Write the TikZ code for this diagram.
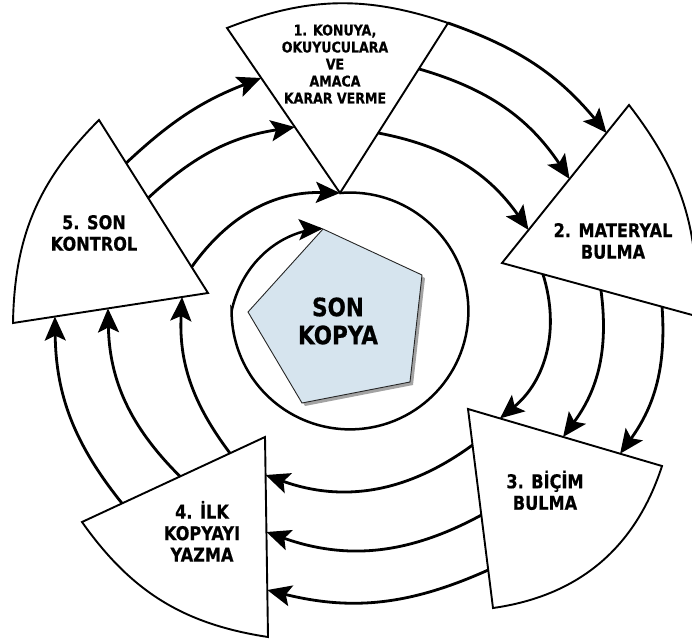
\documentclass[tikz,border=0pt]{standalone}
\usepackage{fontspec}
\setmainfont{DejaVu Sans}[FakeStretch=0.85, BoldFeatures={FakeBold=0.6}]
\usetikzlibrary{arrows.meta,calc,shadows}
\definecolor{pentfill}{RGB}{214,228,238}
\begin{document}
\begin{tikzpicture}[x=1pt,y=1pt,
  wedgebox/.style={draw=black, line width=1.9pt, fill=white, line join=miter},
  headtip/.style={-{Stealth[length=24pt,width=21pt,inset=5pt]}},
  conn/.style={line width=2.8pt, headtip},
  spiralline/.style={line width=2.5pt, headtip},
  pent/.style={fill=pentfill, draw=black!85, line width=0.9pt,
     drop shadow={shadow xshift=3pt, shadow yshift=-3pt, fill=black!60, opacity=0.6}},
  lab/.style={font=\bfseries\fontsize{19}{21.5}\selectfont, align=center, inner sep=0pt},
  labsmall/.style={font=\bfseries\fontsize{14.8}{17}\selectfont, align=center, inner sep=0pt},
  labbig/.style={font=\bfseries\fontsize{25.3}{28}\selectfont, align=center, inner sep=0pt},
]
\useasboundingbox (0,0) rectangle (692,-642);
% wedge vertices
\coordinate (L1) at (227,-28);  \coordinate (A1) at (340,-193); \coordinate (R1) at (448,-23);
\coordinate (T2) at (629,-105); \coordinate (L2) at (502,-263); \coordinate (B2) at (696,-316);
\coordinate (TL3) at (468,-409); \coordinate (R3) at (662,-466); \coordinate (B3) at (493,-608);
\coordinate (T4) at (265,-437); \coordinate (L4) at (82,-522);  \coordinate (B4) at (268,-637);
\coordinate (T5) at (99,-120);  \coordinate (R5) at (208,-293); \coordinate (BL5) at (13,-323);
% pentagon
\coordinate (P1) at (323,-229); \coordinate (P2) at (422,-275); \coordinate (P3) at (410,-382);
\coordinate (P4) at (302,-403); \coordinate (P5) at (248,-312);

% connector ends
\coordinate (s12a) at (R1);
\coordinate (s12b) at ($(R1)!0.27!(A1)$);
\coordinate (s12c) at ($(R1)!0.647!(A1)$);
\coordinate (e12a) at ($(T2)!0.177!(L2)$);
\coordinate (e12b) at ($(T2)!0.468!(L2)$);
\coordinate (e12c) at ($(T2)!0.791!(L2)$);

\coordinate (s23a) at ($(L2)!0.211!(B2)$);
\coordinate (s23b) at ($(L2)!0.51!(B2)$);
\coordinate (s23c) at ($(L2)!0.825!(B2)$);
\coordinate (e23a) at ($(TL3)!0.165!(R3)$);
\coordinate (e23b) at ($(TL3)!0.49!(R3)$);
\coordinate (e23c) at ($(TL3)!0.784!(R3)$);

\coordinate (s34a) at ($(TL3)!0.181!(B3)$);
\coordinate (s34b) at ($(TL3)!0.533!(B3)$);
\coordinate (s34c) at ($(TL3)!0.809!(B3)$);
\coordinate (e34a) at ($(T4)!0.19!(B4)$);
\coordinate (e34b) at ($(T4)!0.475!(B4)$);
\coordinate (e34c) at ($(T4)!0.765!(B4)$);

\coordinate (s45a) at ($(L4)!0.219!(T4)$);
\coordinate (s45b) at ($(L4)!0.536!(T4)$);
\coordinate (s45c) at ($(L4)!0.809!(T4)$);
\coordinate (e45a) at ($(BL5)!0.215!(R5)$);
\coordinate (e45b) at ($(BL5)!0.487!(R5)$);
\coordinate (e45c) at ($(BL5)!0.867!(R5)$);

\coordinate (s51a) at ($(T5)!0.249!(R5)$);
\coordinate (s51b) at ($(T5)!0.451!(R5)$);
\coordinate (s51c) at ($(T5)!0.85!(R5)$);
\coordinate (e51a) at ($(L1)!0.303!(A1)$);
\coordinate (e51b) at ($(L1)!0.6!(A1)$);
\coordinate (e51c) at (A1);

% wedges
\draw[wedgebox] (L1) -- (A1) -- (R1) to[bend right=20] (L1) -- cycle;
\draw[wedgebox] (L2) -- (B2) to[bend right=20] (T2) -- cycle;
\draw[wedgebox] (TL3) -- (R3) to[bend left=32] (B3) -- cycle;
\draw[wedgebox] (B4) -- (T4) -- (L4) to[bend right=23] (B4) -- cycle;
\draw[wedgebox] (T5) -- (R5) -- (BL5) to[bend left=22] (T5) -- cycle;

% connectors
\draw[conn] (s12a) to[bend left=15.5] (e12a);
\draw[conn] (s12b) to[bend left=20] (e12b);
\draw[conn] (s12c) to[bend left=22] (e12c);

\draw[conn] (s23a) to[bend left=34] (e23a);
\draw[conn] (s23b) to[bend left=22] (e23b);
\draw[conn] (s23c) to[bend left=20] (e23c);

\draw[conn] (s34a) to[bend left=28] (e34a);
\draw[conn] (s34b) to[bend left=24] (e34b);
\draw[conn] (s34c) to[bend left=19] (e34c);

\draw[conn] (s45a) to[bend left=19] (e45a);
\draw[conn] (s45b) to[bend left=22] (e45b);
\draw[conn] (s45c) to[bend left=20] (e45c);

\draw[conn] (s51a) to[bend left=11] (e51a);
\draw[conn] (s51b) to[bend left=17] (e51b);
\draw[conn] (s51c) to[bend left=28] (e51c);

% pentagon
\filldraw[pent] (P1) -- (P2) -- (P3) -- (P4) -- (P5) -- cycle;

% spiral
\draw[spiralline] (A1) arc[start angle=94.84, end angle=-180, radius=118.4]
  -- plot[domain=180:108.2, samples=40, smooth]
  ({350+(118.4-0.44*(180-\x))*cos(\x)}, {-311+(118.4-0.44*(180-\x))*sin(\x)});

% labels
\node[labsmall] (t1) at (335,-64) {1. KONUYA,\\OKUYUCULARA\\VE\\AMACA\\KARAR VERME};
\node[lab] (t2) at (613,-241) {2. MATERYAL\\BULMA};
\node[lab] (t3) at (545,-490.3) {3. BİÇİM\\BULMA};
\node[lab] (t4) at (202,-531.3) {4. İLK\\KOPYAYI\\YAZMA};
\node[lab] (t5) at (94,-233) {5. SON\\KONTROL};
\node[labbig] (t0) at (338,-321) {SON\\KOPYA};
\end{tikzpicture}
\end{document}
